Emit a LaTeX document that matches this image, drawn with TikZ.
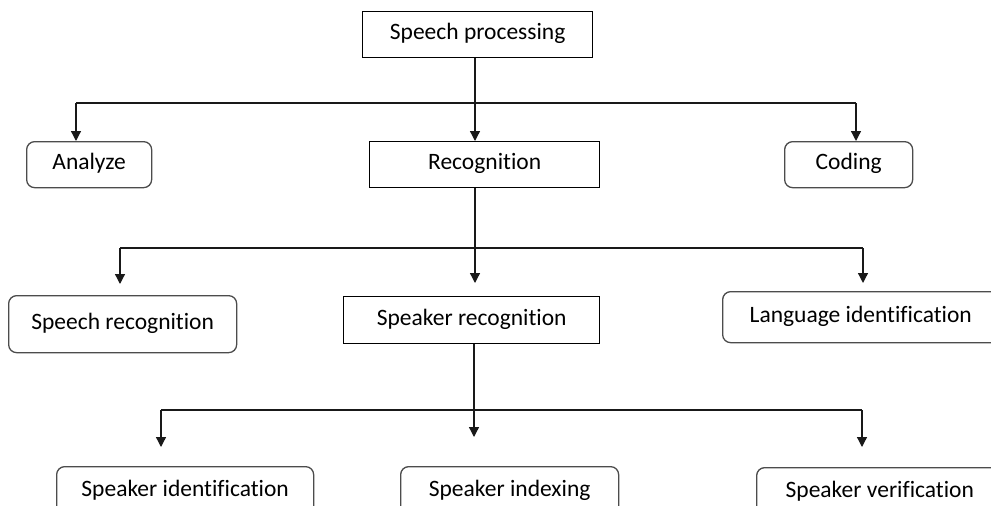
\documentclass[tikz,border=0pt]{standalone}
\usepackage{fontspec}
\setmainfont{Carlito}[Ligatures=NoCommon]
\usetikzlibrary{arrows.meta}
\begin{document}
\begin{tikzpicture}[x=1pt,y=-1pt,
  every node/.style={font=\fontsize{23.5}{28}\selectfont, inner sep=0pt, anchor=north west, text height=16pt, text depth=6pt},
  sharpbox/.style={draw=black, line width=1.3pt},
  roundbox/.style={draw=black!70, line width=1.3pt, rounded corners=8pt},
  wire/.style={line width=1.3pt, black!90},
  arrowwire/.style={wire, -{Triangle[length=10pt,width=10pt]}}
]
\clip (0,0) rectangle (991,506);
\fill[white] (0,0) rectangle (991,506);

% top level
\node[sharpbox, minimum width=230pt, minimum height=46pt] (sp) at (362,11) {Speech processing};
% second level
\node[roundbox, minimum width=125pt, minimum height=46pt] (an) at (26,141) {Analyze};
\node[sharpbox, minimum width=230pt, minimum height=46pt] (rec) at (369,141) {Recognition};
\node[roundbox, minimum width=128pt, minimum height=46pt] (cod) at (784,141) {Coding};
% third level
\node[roundbox, minimum width=228pt, minimum height=57pt] (sr) at (8,295) {Speech recognition};
\node[sharpbox, minimum width=256pt, minimum height=47pt] (spr) at (343,296) {Speaker recognition};
\node[roundbox, minimum width=290pt, minimum height=51pt] (li) at (722,291)
  {\makebox[290pt][l]{\hspace*{27pt}Language identification}};
% bottom level
\node[roundbox, minimum width=257pt, minimum height=50pt] (sid) at (56,466) {Speaker identification};
\node[roundbox, minimum width=218pt, minimum height=50pt] (sin) at (400,466) {Speaker indexing};
\node[roundbox, minimum width=250pt, minimum height=50pt] (sve) at (756,467)
  {\makebox[250pt][l]{\hspace*{29pt}Speaker verification}};

% branch points on the three buses
\coordinate (b1) at (475,103);
\coordinate (b2) at (475,248);
\coordinate (b3) at (474,410);

% from Speech processing
\draw[wire] (sp.south -| b1) -- (b1);
\draw[wire] (76,103) -- (856,103);
\draw[arrowwire] (b1) -- (rec.north -| b1);
\draw[arrowwire] (76,103) -- (an.north -| 76,0);
\draw[arrowwire] (856,103) -- (cod.north -| 856,0);

% from Recognition
\draw[wire] (rec.south -| b2) -- (b2);
\draw[wire] (120,248) -- (863,248);
\draw[arrowwire, shorten >=11pt] (120,248) -- (sr.north -| 120,0);
\draw[arrowwire, shorten >=13pt] (b2) -- (spr.north -| b2);
\draw[arrowwire, shorten >=8pt] (863,248) -- (li.north -| 863,0);

% from Speaker recognition
\draw[wire] (spr.south -| b3) -- (b3);
\draw[wire] (161,410) -- (862,410);
\draw[arrowwire, shorten >=19pt] (161,410) -- (sid.north -| 161,0);
\draw[arrowwire, shorten >=29pt] (b3) -- (sin.north -| b3);
\draw[arrowwire, shorten >=20pt] (862,410) -- (sve.north -| 862,0);
\end{tikzpicture}
\end{document}
